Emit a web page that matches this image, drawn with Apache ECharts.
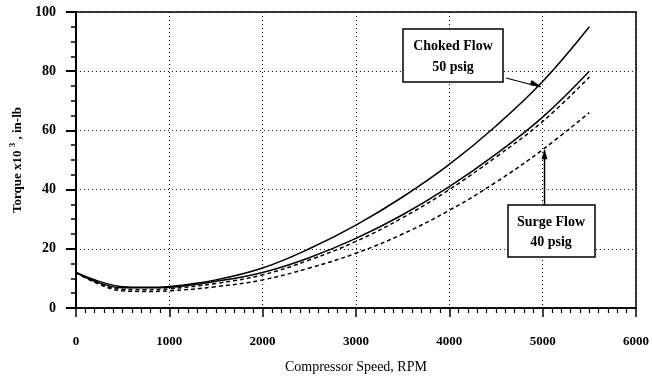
<!DOCTYPE html>
<html>
<head>
<meta charset="utf-8">
<script src="https://cdn.jsdelivr.net/npm/echarts@6/dist/echarts.min.js"></script>
<style>
html,body{margin:0;padding:0;background:#fff;}
#c{width:652px;height:379px;}
</style>
</head>
<body>
<div id="c"></div>
<script>
const rpm = [0, 250, 500, 750, 1000, 1500, 2000, 2500, 3000, 3500, 4000, 4500, 5000, 5500];
const choked50 = [12, 9, 7.2, 7, 7.3, 9.5, 13.5, 20, 28, 37.5, 48.5, 61.5, 76.5, 95];
const solidLower = [12, 8.5, 6.8, 6.8, 7, 9, 12, 17, 23.5, 31.5, 41, 52, 64.5, 80];
const dashedUpper = [12, 8.3, 6.3, 6.2, 6.5, 8.3, 11.2, 16.2, 22.5, 30.5, 40, 51, 63, 78];
const surge40 = [12, 8, 5.8, 5.6, 5.8, 7.2, 9.5, 13.5, 18.5, 25, 33, 42.5, 53.5, 66];
const xTicks = [0, 1000, 2000, 3000, 4000, 5000, 6000];
const yTicks = [0, 20, 40, 60, 80, 100];
const chokedLabel = ['Choked Flow', '50 psig'];
const surgeLabel = ['Surge Flow', '40 psig'];
const chokedArrowTip = [5000, 75];
const surgeArrowTip = [5020, 54];

const FONT = '"Liberation Serif", "DejaVu Serif", serif';
const chart = echarts.init(document.getElementById('c'));

function pairs(ys) { return rpm.map((x, i) => [x, ys[i]]); }

const lineSeries = (data, dashed) => ({
  type: 'line',
  data: pairs(data),
  smooth: 0.4,
  showSymbol: false,
  lineStyle: { color: '#000', width: 1.5, type: dashed ? [4, 3] : 'solid' },
  z: 3
});

chart.setOption({
  animation: false,
  backgroundColor: '#fff',
  grid: { left: 73, right: 12, top: 12, bottom: 71, show: true, borderColor: '#000', borderWidth: 1.5, backgroundColor: 'transparent' },
  xAxis: {
    type: 'value', min: xTicks[0], max: xTicks[xTicks.length - 1], interval: 1000,
    name: 'Compressor Speed, RPM', nameLocation: 'middle', nameGap: 52,
    nameTextStyle: { fontFamily: FONT, fontSize: 14, color: '#000' },
    axisLine: { show: true, lineStyle: { color: '#000', width: 1.5 } },
    axisTick: { show: true, inside: false, length: 9, lineStyle: { color: '#000', width: 1.5 } },
    minorTick: { show: true, splitNumber: 10, length: 5, lineStyle: { color: '#000', width: 1.2 } },
    axisLabel: { margin: 27, fontFamily: FONT, fontSize: 13, fontWeight: 'bold', color: '#000', formatter: v => String(v) },
    splitLine: { show: true, lineStyle: { color: '#000', width: 1, type: [1, 3] } }
  },
  yAxis: {
    type: 'value', min: yTicks[0], max: yTicks[yTicks.length - 1], interval: 20,
    name: '{a|Torque x10 }{s|3}{a| , in-lb}', nameLocation: 'middle', nameGap: 48, nameRotate: 90,
    nameTextStyle: {
      rich: {
        a: { fontFamily: FONT, fontSize: 13, fontWeight: 'bold', color: '#000' },
        s: { fontFamily: FONT, fontSize: 9, fontWeight: 'bold', color: '#000', padding: [0, 0, 10, 0] }
      }
    },
    axisLine: { show: true, lineStyle: { color: '#000', width: 2 } },
    axisTick: { show: true, inside: false, length: 10, lineStyle: { color: '#000', width: 2 } },
    minorTick: { show: true, splitNumber: 4, length: 5, lineStyle: { color: '#000', width: 1.5 } },
    axisLabel: { margin: 20, fontFamily: FONT, fontSize: 14, fontWeight: 'bold', color: '#000', formatter: v => String(v) },
    splitLine: { show: true, lineStyle: { color: '#000', width: 1, type: [1, 3] } }
  },
  series: [
    lineSeries(choked50, false),
    lineSeries(solidLower, false),
    lineSeries(dashedUpper, true),
    lineSeries(surge40, true)
  ]
});

const tipC = chart.convertToPixel({ gridIndex: 0 }, chokedArrowTip);
const tipS = chart.convertToPixel({ gridIndex: 0 }, surgeArrowTip);
const txt = (t, x, y) => ({ type: 'text', x: x, y: y, style: { text: t, fontFamily: FONT, fontSize: 14, fontWeight: 'bold', fill: '#000', align: 'center', verticalAlign: 'middle' }, z: 20 });

chart.setOption({
  graphic: [
    { type: 'rect', shape: { x: 403, y: 29, width: 100, height: 53 }, style: { fill: '#fff', stroke: '#000', lineWidth: 1.5 }, z: 19 },
    txt(chokedLabel[0], 453, 46),
    txt(chokedLabel[1], 453, 67),
    { type: 'line', shape: { x1: 506, y1: 78, x2: tipC[0] - 2, y2: tipC[1] + 1 }, style: { stroke: '#000', lineWidth: 1.2 }, z: 19 },
    { type: 'polygon', shape: { points: [[tipC[0] - 1, tipC[1] + 1], [tipC[0] - 11, tipC[1] - 6], [tipC[0] - 13, tipC[1] - 1]] }, style: { fill: '#000' }, z: 19 },
    { type: 'rect', shape: { x: 508, y: 205, width: 87, height: 52 }, style: { fill: '#fff', stroke: '#000', lineWidth: 1.5 }, z: 19 },
    txt(surgeLabel[0], 551, 222),
    txt(surgeLabel[1], 551, 242),
    { type: 'line', shape: { x1: tipS[0], y1: 205, x2: tipS[0], y2: tipS[1] + 2 }, style: { stroke: '#000', lineWidth: 1.5 }, z: 19 },
    { type: 'polygon', shape: { points: [[tipS[0], tipS[1] + 1], [tipS[0] - 3, tipS[1] + 11], [tipS[0] + 3, tipS[1] + 11]] }, style: { fill: '#000' }, z: 19 }
  ]
});
</script>
</body>
</html>
